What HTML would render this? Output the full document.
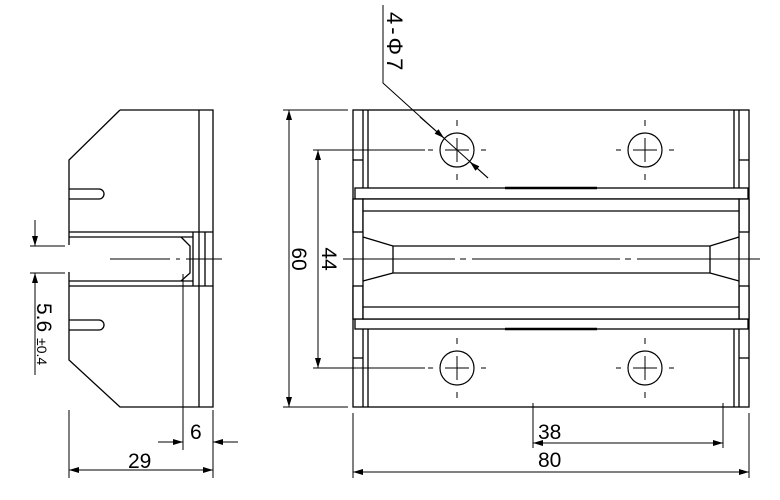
<!DOCTYPE html>
<html><head><meta charset="utf-8"><style>body{margin:0;background:#fff}svg{display:block}</style></head><body>
<svg width="780" height="500" viewBox="0 0 780 500" xmlns="http://www.w3.org/2000/svg" font-family="Liberation Sans, DejaVu Sans, sans-serif">
<defs>
<marker id="a" viewBox="0 0 10 6" refX="10" refY="3" markerWidth="10" markerHeight="6" orient="auto-start-reverse" markerUnits="userSpaceOnUse"><path d="M0,0L10,3L0,6z" fill="#000"/></marker>
</defs>
<g stroke="#000" stroke-width="1.3" fill="none">
<path d="M120,110H213V407H120L69,360V272"/>
<path d="M69,245V160L120,110"/>
<line x1="199" y1="110" x2="199" y2="232"/><line x1="199" y1="286" x2="199" y2="407"/>
<line x1="69" y1="232" x2="213" y2="232"/><line x1="69" y1="237" x2="193" y2="237"/>
<line x1="69" y1="281" x2="193" y2="281"/><line x1="69" y1="286" x2="213" y2="286"/>
<line x1="193" y1="232" x2="193" y2="286"/><line x1="199" y1="232" x2="199" y2="286"/><line x1="205" y1="232" x2="205" y2="286"/>
<path d="M181,237L190,246V273L181,281"/>
<path d="M69,189H99A5,5 0 0 1 99,199H69"/>
<path d="M69,320H99A5,5 0 0 1 99,330H69"/>
<path d="M110,259H170M176,259H180M186,259H222" stroke-width="1"/>
<line x1="30" y1="246" x2="65" y2="246" stroke-width="1"/><line x1="30" y1="273" x2="65" y2="273" stroke-width="1"/>
<line x1="35" y1="220" x2="35" y2="246" marker-end="url(#a)" stroke-width="1"/>
<line x1="35" y1="375" x2="35" y2="273" marker-end="url(#a)" stroke-width="1"/>
<line x1="69" y1="410" x2="69" y2="478" stroke-width="1"/><line x1="213" y1="410" x2="213" y2="478" stroke-width="1"/>
<line x1="183" y1="274" x2="183" y2="450" stroke-width="1"/>
<line x1="69" y1="470" x2="213" y2="470" marker-start="url(#a)" marker-end="url(#a)" stroke-width="1"/>
<line x1="158" y1="442" x2="183" y2="442" marker-end="url(#a)" stroke-width="1"/>
<line x1="238" y1="442" x2="213" y2="442" marker-end="url(#a)" stroke-width="1"/>

<rect x="353" y="110" width="396" height="297"/>
<line x1="363" y1="110" x2="363" y2="188"/><line x1="368" y1="110" x2="368" y2="188"/>
<line x1="734" y1="110" x2="734" y2="188"/><line x1="739" y1="110" x2="739" y2="188"/>
<line x1="363" y1="329" x2="363" y2="407"/><line x1="368" y1="329" x2="368" y2="407"/>
<line x1="734" y1="329" x2="734" y2="407"/><line x1="739" y1="329" x2="739" y2="407"/>
<line x1="353" y1="160" x2="363" y2="160"/><line x1="739" y1="160" x2="749" y2="160"/>
<line x1="353" y1="358" x2="363" y2="358"/><line x1="739" y1="358" x2="749" y2="358"/>
<rect x="355" y="188" width="393" height="11" fill="#fff"/>
<rect x="355" y="319" width="393" height="10" fill="#fff"/>
<rect x="353" y="199" width="10" height="33" fill="#fff"/><rect x="739" y="199" width="10" height="33" fill="#fff"/>
<rect x="353" y="286" width="10" height="33" fill="#fff"/><rect x="739" y="286" width="10" height="33" fill="#fff"/>
<rect x="363" y="199" width="376" height="120" fill="#fff"/>
<line x1="363" y1="211" x2="739" y2="211"/><line x1="363" y1="307" x2="739" y2="307"/>
<path d="M363,237L393,246H710L739,237"/><path d="M363,281L393,273H710L739,281"/>
<line x1="393" y1="246" x2="393" y2="273"/><line x1="710" y1="246" x2="710" y2="273"/>
<line x1="505" y1="188" x2="597" y2="188" stroke-width="2.5"/><line x1="505" y1="329" x2="597" y2="329" stroke-width="2.5"/>
<path d="M343,259H455M460,259H466M472,259H620M625,259H631M637,259H760" stroke-width="1"/>
<g stroke-width="1.2">
<circle cx="457" cy="150" r="17"/><circle cx="645" cy="150" r="17"/>
<circle cx="457" cy="368" r="17"/><circle cx="645" cy="368" r="17"/>
</g>
<g stroke-width="1">
<path d="M445,150H469M457,138V162M633,150H657M645,138V162M445,368H469M457,356V380M633,368H657M645,356V380"/>
<path d="M428,150H433M481,150H486M457,120V126M457,174V180M616,150H621M669,150H674M645,120V126M645,174V180"/>
<path d="M428,368H433M481,368H486M457,338V344M457,392V398M616,368H621M669,368H674M645,338V344M645,392V398"/>
<path d="M383,5V83L488,178"/>
<line x1="420" y1="117" x2="444" y2="138" marker-end="url(#a)"/>
<line x1="488" y1="178" x2="470" y2="162" marker-end="url(#a)"/>
<line x1="283" y1="110" x2="348" y2="110"/><line x1="283" y1="407" x2="348" y2="407"/>
<line x1="289" y1="259" x2="289" y2="110" marker-end="url(#a)"/><line x1="289" y1="259" x2="289" y2="407" marker-end="url(#a)"/>
<line x1="313" y1="150" x2="425" y2="150"/><line x1="313" y1="368" x2="425" y2="368"/>
<line x1="318" y1="259" x2="318" y2="150" marker-end="url(#a)"/><line x1="318" y1="259" x2="318" y2="368" marker-end="url(#a)"/>
<line x1="533" y1="403" x2="533" y2="448"/><line x1="723" y1="403" x2="723" y2="448"/>
<line x1="533" y1="443" x2="723" y2="443" marker-start="url(#a)" marker-end="url(#a)"/>
<line x1="353" y1="413" x2="353" y2="478"/><line x1="749" y1="413" x2="749" y2="478"/>
<line x1="353" y1="472" x2="749" y2="472" marker-start="url(#a)" marker-end="url(#a)"/>
</g>
</g>
<g font-size="21" fill="#000">
<text x="128" y="468">29</text>
<text x="190" y="439">6</text>
<text x="538" y="439">38</text>
<text x="538" y="467">80</text>
<text transform="translate(292,259) rotate(90)" text-anchor="middle">60</text>
<text transform="translate(322,259) rotate(90)" text-anchor="middle">44</text>
<text transform="translate(387,12) rotate(90)" font-size="22" letter-spacing="3">4-Φ7</text>
<text transform="translate(37,303) rotate(90)">5.6 <tspan font-size="14">±0.4</tspan></text>
</g>
</svg>
</body></html>
